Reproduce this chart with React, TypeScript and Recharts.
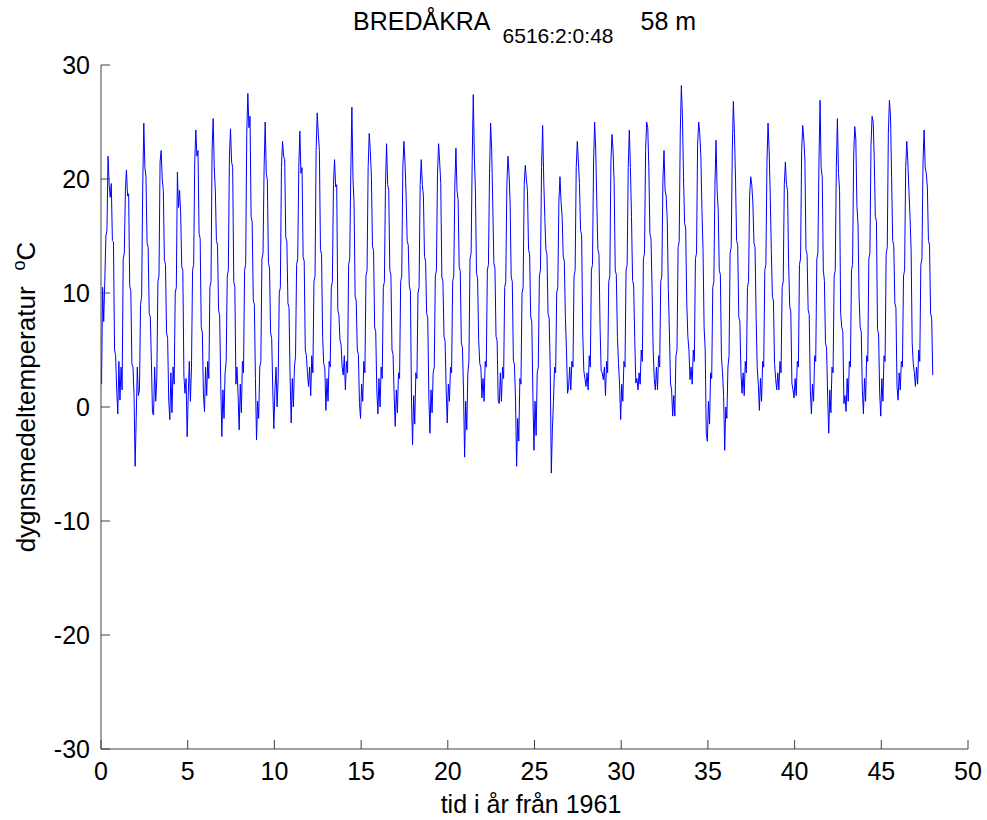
import React from "react";
import { Line, LineChart, XAxis, YAxis } from "recharts";

const years1961to1970 = [
  [2.0, 10.5, 7.5, 11.0, 15.0, 15.5, 22.0, 19.5, 18.4, 19.6, 14.6, 14.5, 5.0, 4.5, 1.5, -0.6],
  [4.0, 0.6, 3.5, 1.5, 13.0, 13.5, 19.0, 20.8, 18.5, 18.7, 10.6, 10.2, 3.8, 3.5, 1.0, -5.2],
  [-1.0, 3.5, 1.0, 1.5, 9.0, 9.7, 19.3, 24.9, 21.0, 20.2, 14.4, 14.0, 8.2, 7.9, 4.0, -0.5],
  [-0.7, 3.5, 0.5, 2.5, 11.0, 11.5, 21.5, 22.5, 20.0, 19.0, 12.9, 12.5, 6.5, 6.0, 0.6, -1.1],
  [3.0, -0.5, 3.5, 2.0, 10.0, 10.5, 20.6, 17.5, 19.0, 17.0, 12.3, 12.0, 2.7, 1.2, 2.5, -2.6],
  [1.0, 4.0, 0.5, 3.5, 12.0, 12.5, 21.5, 24.3, 22.0, 22.5, 15.2, 14.8, 7.0, 6.5, 1.2, -0.4],
  [3.5, 1.0, 4.0, 2.5, 10.5, 11.0, 22.5, 25.3, 21.0, 19.0, 14.6, 14.2, 8.5, 8.0, 2.0, -2.6],
  [1.5, -1.0, 3.0, 4.0, 11.5, 12.0, 22.0, 24.4, 21.5, 21.0, 11.0, 10.5, 2.0, 3.5, 1.0, -2.0],
  [2.0, -0.5, 4.0, 3.0, 12.0, 12.5, 24.0, 27.5, 24.5, 25.5, 16.7, 16.2, 9.4, 9.0, 2.5, -2.9],
  [0.5, -1.0, 3.5, 4.0, 13.0, 13.5, 21.0, 25.0, 20.5, 19.9, 12.6, 12.2, 6.5, 6.0, 1.5, -1.9],
];

const years1971to1980 = [
  [1.5, 3.5, 0.0, 2.5, 10.0, 10.5, 21.0, 23.3, 22.0, 21.7, 14.9, 14.5, 9.1, 8.7, 2.5, -1.4],
  [2.5, 0.0, 3.5, 4.5, 12.5, 13.0, 21.0, 24.2, 20.5, 21.0, 13.2, 12.8, 5.0, 4.5, 3.0, 1.8],
  [3.5, 1.0, 4.5, 3.0, 11.0, 11.5, 22.5, 25.8, 24.0, 22.5, 13.8, 13.4, 6.2, 3.8, 3.5, -0.3],
  [2.5, 0.5, 4.0, 3.5, 10.5, 11.0, 19.5, 21.7, 19.3, 19.5, 8.5, 8.1, 5.9, 5.5, 3.5, 2.8],
  [4.5, 1.5, 4.0, 3.0, 12.5, 13.0, 20.5, 26.3, 20.0, 17.9, 9.7, 9.3, 5.0, 4.6, 0.3, -1.0],
  [2.0, 0.5, 4.0, 3.0, 11.5, 12.0, 21.0, 24.0, 22.5, 20.2, 14.1, 13.7, 7.0, 6.6, 1.5, -0.6],
  [2.5, 0.0, 3.5, 2.5, 10.5, 11.0, 19.5, 23.1, 19.5, 19.0, 12.0, 11.6, 5.0, 4.6, 1.0, -1.7],
  [1.5, -0.5, 3.0, 2.5, 11.0, 11.5, 21.0, 23.3, 21.5, 18.7, 14.6, 14.2, 10.6, 10.2, 0.6, -3.3],
  [1.0, -1.5, 3.0, 2.5, 10.0, 10.5, 19.5, 21.7, 19.5, 18.5, 13.2, 12.8, 8.2, 7.8, 0.9, -2.3],
  [1.5, -0.5, 3.0, 3.5, 11.5, 12.0, 20.5, 23.1, 21.5, 19.6, 11.4, 11.0, 6.2, 5.8, 1.5, -1.4],
];

const years1981to1990 = [
  [2.0, 0.5, 3.5, 3.0, 11.0, 11.5, 19.5, 22.7, 19.0, 18.2, 12.3, 11.9, 5.6, 5.2, 1.5, -4.4],
  [0.5, -2.0, 3.0, 4.0, 13.0, 13.5, 21.5, 27.4, 22.0, 19.0, 11.7, 11.3, 5.9, 3.8, 3.5, 0.8],
  [2.5, 0.5, 4.0, 3.5, 12.0, 12.5, 20.5, 24.9, 22.5, 17.6, 12.6, 12.2, 6.2, 5.8, 0.6, 0.3],
  [3.0, 0.5, 3.5, 2.5, 10.5, 11.0, 19.5, 22.0, 20.5, 17.9, 11.4, 11.0, 4.1, 3.7, 0.6, -5.2],
  [-1.0, -3.0, 2.5, 2.0, 10.0, 10.5, 19.5, 21.2, 20.0, 19.0, 13.8, 13.4, 7.9, 7.5, 1.2, -3.8],
  [0.5, -2.5, 3.0, 3.5, 11.5, 12.0, 21.0, 24.7, 20.0, 16.7, 13.8, 13.4, 8.2, 7.8, 3.5, -5.8],
  [-2.0, 0.5, 3.5, 3.0, 10.0, 10.5, 18.0, 20.2, 18.0, 16.7, 13.2, 12.8, 7.9, 5.0, 1.2, 1.8],
  [3.5, 1.5, 4.0, 3.5, 11.5, 12.0, 21.0, 23.3, 21.5, 19.6, 15.5, 15.1, 6.5, 3.2, 2.5, 1.8],
  [3.0, 1.5, 4.5, 3.5, 12.0, 12.5, 21.5, 25.0, 22.5, 17.9, 13.8, 13.4, 7.0, 3.2, 3.0, 2.4],
  [3.5, 1.0, 4.0, 3.0, 11.0, 11.5, 21.5, 23.9, 22.5, 19.6, 12.0, 11.6, 6.2, 3.8, 2.0, -1.1],
];

const years1991to2000 = [
  [2.0, 0.5, 4.0, 3.5, 12.0, 12.5, 21.0, 24.3, 21.0, 16.7, 11.1, 10.7, 5.9, 2.1, 2.5, 1.5],
  [3.0, 2.0, 5.0, 4.0, 13.0, 13.5, 22.5, 25.0, 24.5, 21.0, 15.2, 14.8, 10.3, 5.0, 2.5, 1.5],
  [3.5, 1.5, 4.5, 3.5, 11.0, 11.5, 20.0, 22.5, 19.0, 18.5, 16.4, 10.3, 6.5, 2.1, 1.5, -0.8],
  [1.0, -0.8, 4.5, 5.0, 14.0, 14.5, 24.0, 28.2, 25.5, 20.2, 16.1, 15.7, 9.1, 6.2, 5.0, 2.4],
  [3.5, 2.0, 5.0, 4.0, 13.0, 13.5, 23.0, 25.0, 24.0, 22.0, 17.3, 13.8, 7.0, 5.0, -2.3, -3.0],
  [0.5, -1.5, 3.0, 2.5, 10.5, 11.0, 19.5, 23.4, 19.0, 17.3, 12.0, 11.6, 4.4, 3.0, 1.0, -3.8],
  [0.0, -1.0, 3.5, 4.5, 13.5, 14.0, 22.5, 26.8, 24.0, 19.9, 14.6, 14.2, 7.9, 7.5, 3.0, 1.2],
  [3.0, 1.0, 4.0, 3.0, 10.5, 11.0, 18.5, 20.2, 19.5, 17.9, 14.4, 14.0, 7.9, 3.5, 2.0, -0.3],
  [2.5, 0.5, 4.0, 3.5, 12.0, 12.5, 21.5, 24.9, 22.5, 18.7, 13.8, 9.7, 9.3, 3.8, 2.5, 1.5],
  [3.0, 1.5, 4.0, 3.0, 10.5, 11.0, 19.5, 21.5, 19.5, 19.0, 12.6, 8.8, 8.4, 2.1, 1.5, 0.8],
];

const years2001to2008 = [
  [2.5, 1.0, 4.0, 3.5, 12.5, 13.0, 22.5, 24.7, 23.5, 21.7, 13.8, 13.4, 8.5, 8.1, 1.5, -0.6],
  [2.0, 0.5, 4.5, 4.0, 13.0, 13.5, 21.5, 26.9, 21.0, 20.2, 12.0, 11.1, 5.6, 5.2, 0.9, -2.3],
  [1.5, -0.5, 3.5, 3.0, 11.5, 12.0, 21.0, 25.3, 20.5, 19.0, 8.2, 7.0, 6.6, 0.3, 1.0, -0.4],
  [2.5, 0.5, 4.0, 3.5, 12.0, 12.5, 22.0, 24.6, 23.5, 17.6, 16.1, 9.7, 7.0, 6.6, 1.5, -0.6],
  [2.5, 0.5, 4.5, 4.0, 13.0, 13.5, 23.0, 25.5, 25.0, 21.7, 16.7, 16.3, 6.8, 6.4, 1.2, -0.8],
  [2.5, 0.5, 4.5, 4.0, 13.5, 14.0, 24.0, 26.9, 25.5, 20.2, 14.6, 14.2, 9.1, 8.7, 1.8, 0.6],
  [3.0, 1.5, 4.0, 3.5, 11.5, 12.0, 21.0, 23.3, 21.5, 19.0, 16.7, 13.8, 5.6, 3.8, 3.0, 1.8],
  [3.5, 2.0, 5.0, 4.0, 12.5, 13.0, 21.5, 24.3, 21.0, 20.5, 19.3, 14.6, 14.2, 8.2, 7.8, 2.8],
];

const xTicks = [0, 5, 10, 15, 20, 25, 30, 35, 40, 45, 50];
const yTicks = [-30, -20, -10, 0, 10, 20, 30];

const samplesPerYear = 16;
const allYears = [
  ...years1961to1970,
  ...years1971to1980,
  ...years1981to1990,
  ...years1991to2000,
  ...years2001to2008,
];

const data = allYears.flatMap((row, year) =>
  row.map((temp, i) => ({ t: year + (i + 0.5) / samplesPerYear, temp }))
);

const font = "'Liberation Sans', Arial, Helvetica, sans-serif";
const axisColor = "#404040";

const XTick = (props: any) => {
  const { x, y, payload } = props;
  return (
    <g>
      <line x1={x} y1={y} x2={x} y2={y - 9} stroke={axisColor} />
      <text x={x} y={y + 31} textAnchor="middle" fontSize={25} fontFamily={font} fill="#000">
        {payload.value}
      </text>
    </g>
  );
};

const YTick = (props: any) => {
  const { x, y, payload } = props;
  return (
    <g>
      <line x1={x} y1={y} x2={x + 9} y2={y} stroke={axisColor} />
      <text x={x - 11} y={y + 9} textAnchor="end" fontSize={25} fontFamily={font} fill="#000">
        {payload.value}
      </text>
    </g>
  );
};

export default function App() {
  return (
    <div style={{ position: "absolute", left: 0, top: 0, width: 987, height: 820, background: "#fff" }}>
      <LineChart
        width={987}
        height={820}
        data={data}
        margin={{ top: 65, right: 19, bottom: 41, left: 41 }}
      >
        <XAxis
          dataKey="t"
          type="number"
          domain={[0, 50]}
          ticks={xTicks}
          interval={0}
          height={30}
          tickSize={0}
          tickMargin={0}
          tickLine={false}
          stroke={axisColor}
          tick={<XTick />}
        />
        <YAxis
          type="number"
          domain={[-30, 30]}
          ticks={yTicks}
          interval={0}
          width={60}
          tickSize={0}
          tickMargin={0}
          tickLine={false}
          stroke={axisColor}
          tick={<YTick />}
        />
        <Line
          type="linear"
          dataKey="temp"
          stroke="#0000ff"
          strokeWidth={1}
          dot={false}
          activeDot={false}
          isAnimationActive={false}
        />
      </LineChart>
      <svg
        width={987}
        height={820}
        style={{ position: "absolute", left: 0, top: 0, pointerEvents: "none" }}
        fontFamily={font}
      >
        <text x={353} y={30} fontSize={25} fill="#000">
          BREDÅKRA
          <tspan dx={12} dy={13} fontSize={21}>6516:2:0:48</tspan>
          <tspan dx={27} dy={-13} fontSize={25}>58 m</tspan>
        </text>
        <text x={531} y={813} textAnchor="middle" fontSize={25} fill="#000">
          tid i år från 1961
        </text>
        <text
          x={35}
          y={397}
          transform="rotate(-90 35 397)"
          textAnchor="middle"
          fontSize={26}
          fill="#000"
        >
          dygnsmedeltemperatur
          <tspan dx={16} dy={-10} fontSize={18}>o</tspan>
          <tspan dy={10} fontSize={26}>C</tspan>
        </text>
      </svg>
    </div>
  );
}
